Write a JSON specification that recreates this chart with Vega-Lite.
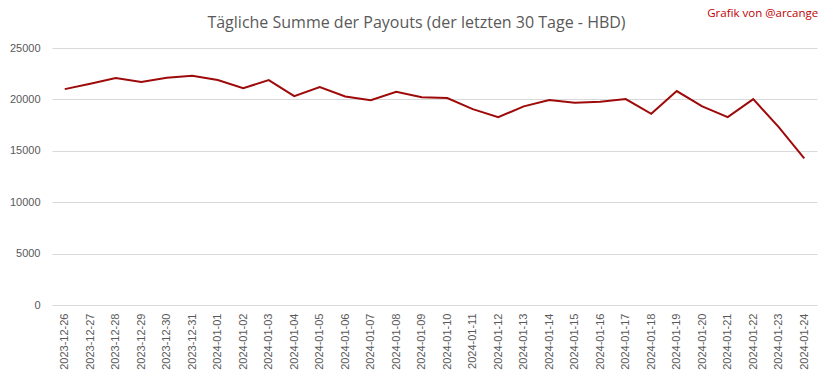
{
  "$schema": "https://vega.github.io/schema/vega-lite/v6.json",
  "width": 765,
  "height": 257,
  "autosize": {"type": "none"},
  "padding": {"left": 52, "top": 48, "right": 16, "bottom": 74},
  "background": "white",
  "config": {
    "view": {"stroke": null},
    "font": "Liberation Sans",
    "axis": {"labelColor": "#595959", "labelFontSize": 11, "domain": false, "ticks": false, "gridColor": "#d9d9d9"}
  },
  "title": {
    "text": "Tägliche Summe der Payouts (der letzten 30 Tage - HBD)",
    "font": "Open Sans",
    "fontSize": 16,
    "fontWeight": "normal",
    "color": "#595959",
    "anchor": "middle",
    "dx": -18,
    "offset": 0,
    "dy": 23
  },
  "data": {
    "values": [
      {"date": "2023-12-26", "value": 21000},
      {"date": "2023-12-27", "value": 21520},
      {"date": "2023-12-28", "value": 22080},
      {"date": "2023-12-29", "value": 21690},
      {"date": "2023-12-30", "value": 22110},
      {"date": "2023-12-31", "value": 22300},
      {"date": "2024-01-01", "value": 21880},
      {"date": "2024-01-02", "value": 21100},
      {"date": "2024-01-03", "value": 21880},
      {"date": "2024-01-04", "value": 20320},
      {"date": "2024-01-05", "value": 21200},
      {"date": "2024-01-06", "value": 20290},
      {"date": "2024-01-07", "value": 19930},
      {"date": "2024-01-08", "value": 20740},
      {"date": "2024-01-09", "value": 20220},
      {"date": "2024-01-10", "value": 20130},
      {"date": "2024-01-11", "value": 19050},
      {"date": "2024-01-12", "value": 18270},
      {"date": "2024-01-13", "value": 19320},
      {"date": "2024-01-14", "value": 19930},
      {"date": "2024-01-15", "value": 19670},
      {"date": "2024-01-16", "value": 19770},
      {"date": "2024-01-17", "value": 20030},
      {"date": "2024-01-18", "value": 18600},
      {"date": "2024-01-19", "value": 20810},
      {"date": "2024-01-20", "value": 19320},
      {"date": "2024-01-21", "value": 18270},
      {"date": "2024-01-22", "value": 20030},
      {"date": "2024-01-23", "value": 17300},
      {"date": "2024-01-24", "value": 14270}
    ]
  },
  "layer": [
    {
      "mark": {"type": "line", "color": "#9e0a0a", "strokeWidth": 2},
      "encoding": {
        "x": {
          "field": "date", "type": "ordinal", "title": null,
          "scale": {"paddingInner": 1, "paddingOuter": 0.5},
          "axis": {"labelAngle": -90, "labelPadding": 8, "labelFontSize": 11}
        },
        "y": {
          "field": "value", "type": "quantitative", "title": null,
          "scale": {"domain": [0, 25000], "nice": false},
          "axis": {"values": [0, 5000, 10000, 15000, 20000, 25000], "format": "d", "labelPadding": 12}
        }
      }
    },
    {
      "data": {"values": [{"label": "Grafik von @arcange"}]},
      "mark": {"type": "text", "color": "#c00000", "fontSize": 11.5, "font": "Open Sans", "align": "right", "dx": 14, "clip": false},
      "encoding": {
        "text": {"field": "label"},
        "x": {"datum": "2024-01-24", "type": "ordinal"},
        "y": {"datum": 28300, "type": "quantitative"}
      }
    }
  ]
}
